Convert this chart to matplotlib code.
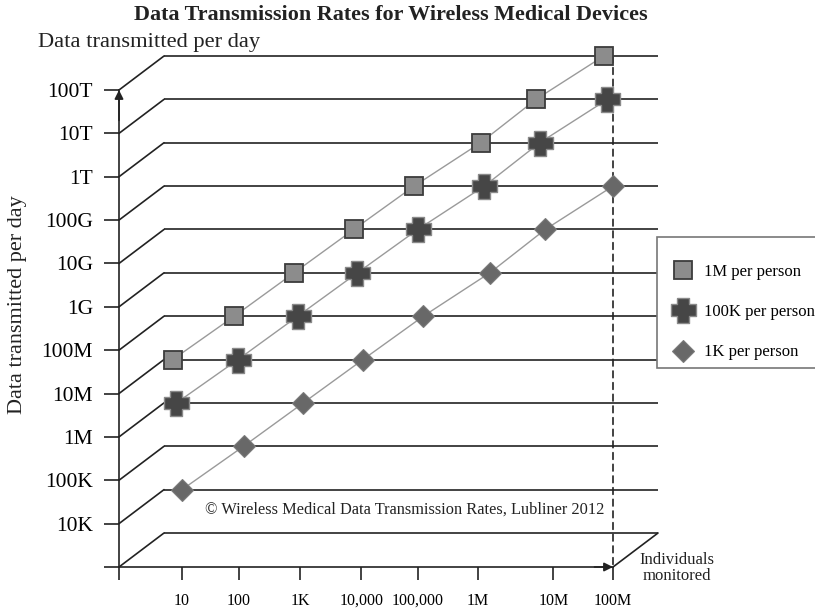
import matplotlib.pyplot as plt
from matplotlib.patches import Rectangle
from matplotlib.transforms import ScaledTranslation

plt.rcParams['font.family'] = 'Liberation Serif'

# individuals monitored (x axis) and daily data volume per series
x_labels = ['10', '100', '1K', '10,000', '100,000', '1M', '10M', '100M']
y_levels = [1e3, 1e4, 1e5, 1e6, 1e7, 1e8, 1e9, 1e10, 1e11, 1e12, 1e13, 1e14]
y_labels = ['', '10K', '100K', '1M', '10M', '100M', '1G', '10G', '100G', '1T', '10T', '100T']

data_1m = [1e7, 1e8, 1e9, 1e10, 1e11, 1e12, 1e13, 1e14]
data_100k = [1e6, 1e7, 1e8, 1e9, 1e10, 1e11, 1e12, 1e13]
data_1k = [1e4, 1e5, 1e6, 1e7, 1e8, 1e9, 1e10, 1e11]

# layout: the drawing places ticks and markers unevenly along x
tick_pos = [0, 0.925, 1.92, 2.91, 3.83, 4.81, 6.03, 7]
mark_pos = [0, 1, 1.97, 2.94, 3.92, 5.0, 5.9, 7]
x0 = -1.023
ink = '#222222'

# blocky plus marker, thicker arms than 'P'
w = 0.5
plus = [(-w, 1), (w, 1), (w, w), (1, w), (1, -w), (w, -w), (w, -1), (-w, -1),
        (-w, -w), (-1, -w), (-1, w), (-w, w), (-w, 1)]

fig = plt.figure(figsize=(8.15, 6.1), dpi=100)
ax = fig.add_axes([119 / 815, 43 / 610, 494 / 815, 477 / 610])
ax.set_yscale('log')
ax.set_xlim(x0, 7)
ax.set_ylim(1e3, 1e14)

# back wall is shifted right and up, markers sit on the back lines
back = ax.transData + ScaledTranslation(0.45, 0.34, fig.dpi_scale_trans)
lift = ax.transData + ScaledTranslation(0, 0.34, fig.dpi_scale_trans)

for s in ['top', 'right']:
    ax.spines[s].set_visible(False)
for s in ['left', 'bottom']:
    ax.spines[s].set_color(ink)
    ax.spines[s].set_linewidth(1.2)

ax.set_yticks(y_levels)
ax.set_yticklabels(y_labels)
ax.yaxis.set_minor_locator(plt.NullLocator())
ax.set_xticks([x0] + tick_pos)
ax.set_xticklabels([''] + x_labels)
ax.tick_params(axis='y', length=10.8, width=1.2, color=ink, labelsize=15.5, pad=8)
ax.tick_params(axis='x', length=9.4, width=1.2, color=ink, labelsize=11.5, pad=9)

# axis arrows
arrow = dict(arrowstyle='-|>', color=ink, lw=1.2, mutation_scale=13, shrinkA=0, shrinkB=0)
ax.annotate('', xy=(x0, 1e14), xytext=(x0, 2e13), arrowprops=arrow, annotation_clip=False)
ax.annotate('', xy=(7, 1e3), xytext=(6.7, 1e3), arrowprops=arrow, annotation_clip=False)

# back wall lines and the obliques joining them to the axes
ax.hlines(y_levels, x0, 7, transform=back, color=ink, lw=1.2, clip_on=False)
seg = dict(arrowstyle='-', color=ink, lw=1.2, shrinkA=0, shrinkB=0)
for lv in y_levels:
    ax.annotate('', xy=(x0, lv), xytext=(x0, lv), xycoords='data', textcoords=back,
                arrowprops=seg, annotation_clip=False)
ax.annotate('', xy=(7, 1e3), xytext=(7, 1e3), xycoords='data', textcoords=back,
            arrowprops=seg, annotation_clip=False)
ax.annotate('', xy=(7, 1e3), xytext=(7, 1e14), xycoords='data', textcoords=lift,
            arrowprops=dict(arrowstyle='-', color=ink, lw=1.2, linestyle=(0, (4, 3)),
                            shrinkA=0, shrinkB=0), annotation_clip=False)

series = [
    (data_1m, -0.15, dict(marker='s', ms=13.5, mfc='#8c8c8c', mec='#3c3c3c', mew=1.3), '1M per person'),
    (data_100k, -0.09, dict(marker=plus, ms=18, mfc='#464646', mec='#8a8a8a', mew=1.0), '100K per person'),
    (data_1k, 0.0, dict(marker='D', ms=11.5, mfc='#686868', mec='#7a7a7a', mew=0.8), '1K per person'),
]
handles = []
for vals, shift, style, label in series:
    xs = [p + shift for p in mark_pos]
    ax.plot(xs, vals, transform=lift, color='#9a9a9a', lw=1.0, zorder=2, clip_on=False)
    h, = ax.plot(xs, vals, transform=lift, ls='none', zorder=3, clip_on=False, label=label, **style)
    handles.append(h)

# legend box runs off the right edge as in the original
ax.add_patch(Rectangle((657 / 815, 1 - 368 / 610), 170 / 815, 131 / 610,
                       transform=fig.transFigure, facecolor='white', edgecolor='#777777',
                       lw=1.2, clip_on=False, zorder=4))
leg = ax.legend(handles=handles, loc='upper left', bbox_to_anchor=(671 / 815, 1 - 259 / 610),
                bbox_transform=fig.transFigure, frameon=False, fontsize=12, borderpad=0.3,
                labelspacing=1.45, handlelength=0.8, handletextpad=0.9, borderaxespad=0)
leg.set_zorder(5)

fig.text(391 / 815, 1 - 15 / 610, 'Data Transmission Rates for Wireless Medical Devices',
         ha='center', va='center', fontsize=15.9, fontweight='bold', color=ink)
fig.text(38 / 815, 1 - 42 / 610, 'Data transmitted per day', ha='left', va='center',
         fontsize=16.2, color=ink)
fig.text(18 / 815, 1 - 305 / 610, 'Data transmitted per day', ha='center', va='center',
         rotation=90, fontsize=16, color=ink)
fig.text(205 / 815, 1 - 510 / 610,
         '\u00a9 Wireless Medical Data Transmission Rates, Lubliner 2012',
         ha='left', va='center', fontsize=11.8, color=ink)
fig.text(677 / 815, 1 - 568 / 610, 'Individuals\nmonitored', ha='center', va='center',
         fontsize=12, linespacing=1.0, color=ink)

fig.savefig('out.png', dpi=100)
